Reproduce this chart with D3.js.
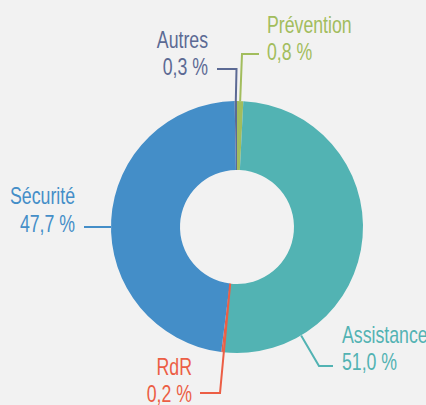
<!DOCTYPE html>
<html>
<head>
<meta charset="utf-8">
<script src="https://cdn.jsdelivr.net/npm/d3@7"></script>
<style>
  html, body { margin: 0; padding: 0; background: #f2f2f2; }
  text { font-family: "Liberation Sans", Arial, sans-serif; font-size: 23px; }
</style>
</head>
<body>
<div id="main"></div>
<script>
var width = 426,
    height = 405,
    cx = 237,
    cy = 227,
    outerR = 126,
    innerR = 57,
    squeeze = 0.77;   // fake a condensed face

// slices, clockwise from 12 o'clock
var categories = ["Prévention", "Assistance", "RdR", "Sécurité", "Autres"];
var values = [0.8, 51.0, 0.2, 47.7, 0.3];
var colors = ["#a2bd5d", "#52b3b3", "#ec5e45", "#448ec8", "#5c6a94"];

// label layout: angle on ring where leader starts (null = slice middle), ring used,
// elbow + end of leader, text anchor/pos
var labelLayout = [
  { at: null, ring: "outer", elbow: [242, 54], end: [259, 54], anchor: "start", tx: 267, ty: [33, 60] },
  { at: 149.4, ring: "outer", elbow: [319, 366], end: [333, 366], anchor: "start", tx: 342, ty: [343, 370] },
  { at: null, ring: "inner", elbow: [220, 393], end: [200, 393], anchor: "end", tx: 192, ty: [375, 402] },
  { at: 270, ring: "outer", elbow: null, end: [84, 227], anchor: "end", tx: 75, ty: [204, 232] },
  { at: null, ring: "outer", elbow: [236.5, 69], end: [217, 69], anchor: "end", tx: 208, ty: [48, 75] }
];

function fmt(v) {
  return v.toFixed(1).replace(".", ",") + " %";
}

var svg = d3.select("#main").append("svg")
    .attr("width", width)
    .attr("height", height)
    .style("display", "block");

var pie = d3.pie().sort(null).value(function(d) { return d; });
var arcs = pie(values);

var arc = d3.arc().innerRadius(innerR).outerRadius(outerR);

var g = svg.append("g").attr("transform", `translate(${cx},${cy})`);

g.selectAll("path.slice")
    .data(arcs)
    .enter().append("path")
    .attr("class", "slice")
    .attr("d", arc)
    .attr("fill", function(d, i) { return colors[i]; });

// leaders + labels
arcs.forEach(function(a, i) {
  var L = labelLayout[i];
  var ang = L.at == null ? (a.startAngle + a.endAngle) / 2 : L.at * Math.PI / 180;
  var r = L.ring == "inner" ? innerR : outerR;
  var sx = cx + r * Math.sin(ang),
      sy = cy - r * Math.cos(ang);
  var pts = [[sx, sy]];
  if (L.elbow) pts.push(L.elbow);
  else pts[0][1] = L.end[1];
  pts.push(L.end);

  svg.append("path")
      .attr("d", d3.line()(pts))
      .attr("fill", "none")
      .attr("stroke", colors[i])
      .attr("stroke-width", 2);

  var t = svg.append("g").attr("fill", colors[i]).attr("text-anchor", L.anchor);
  [categories[i], fmt(values[i])].forEach(function(s, k) {
    t.append("text")
        .attr("transform", `translate(${L.tx},${L.ty[k]}) scale(${squeeze},1)`)
        .text(s);
  });
});
</script>
</body>
</html>
